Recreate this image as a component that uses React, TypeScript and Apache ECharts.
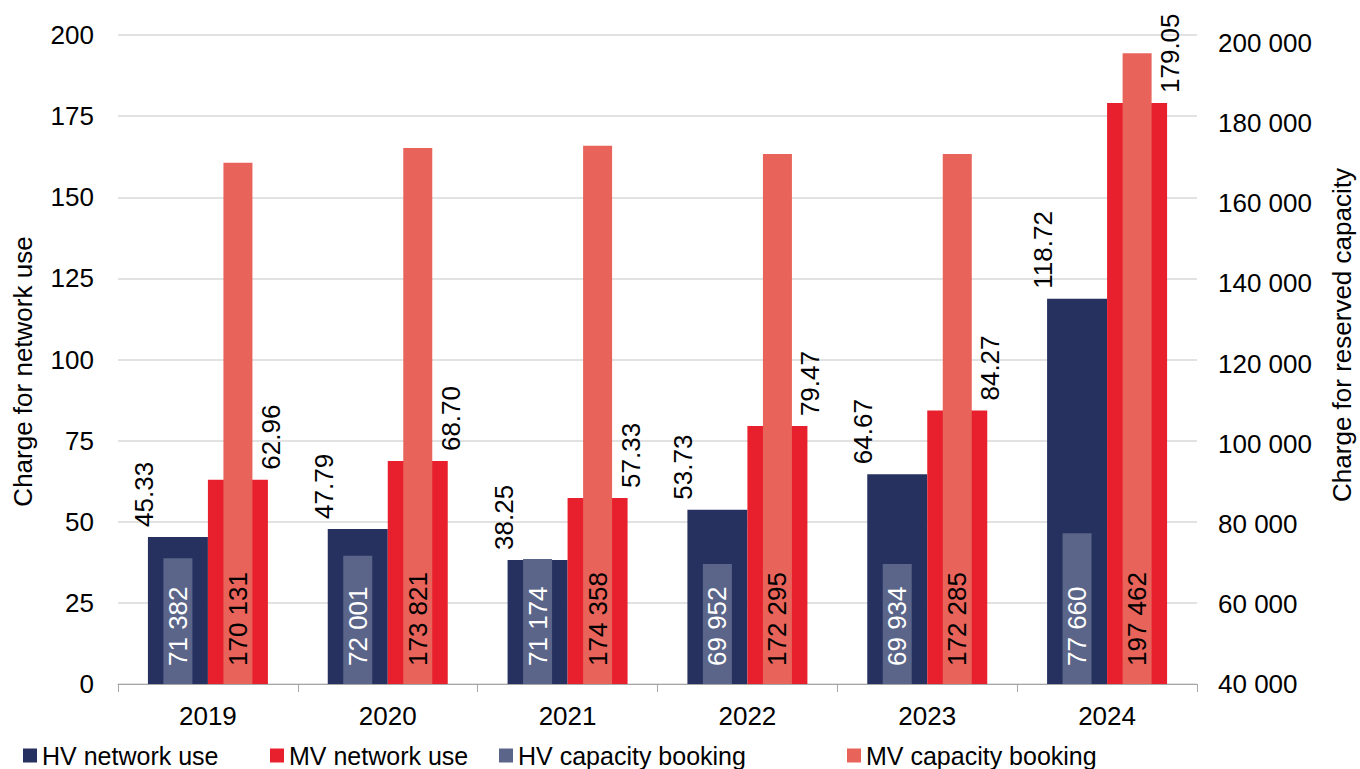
import React, { useEffect, useRef } from 'react';
import * as echarts from 'echarts';

const FONT = "'Liberation Sans', Arial, Helvetica, sans-serif";

const years = ['2019', '2020', '2021', '2022', '2023', '2024'];
const hvNetworkUse = [45.33, 47.79, 38.25, 53.73, 64.67, 118.72];
const mvNetworkUse = [62.96, 68.7, 57.33, 79.47, 84.27, 179.05];
const hvCapacityBooking = [71382, 72001, 71174, 69952, 69934, 77660];
const mvCapacityBooking = [170131, 173821, 174358, 172295, 172285, 197462];

const seriesNames = ['HV network use', 'MV network use', 'HV capacity booking', 'MV capacity booking'];
const colors = ['#26315f', '#e8202d', '#5b6589', '#e8635a'];

const spaced = (v: number) => String(Math.round(v)).replace(/\B(?=(\d{3})+(?!\d))/g, ' ');

const netLabel = (dx: number) => ({
  show: true,
  position: 'top',
  distance: 10,
  rotate: 90,
  align: 'left',
  verticalAlign: 'middle',
  offset: [0, dx],
  fontSize: 26,
  fontFamily: FONT,
  color: '#000',
  formatter: (p: any) => Number(p.value).toFixed(2),
});

const capLabel = (color: string) => ({
  show: true,
  position: 'insideBottom',
  distance: 18,
  rotate: 90,
  align: 'left',
  verticalAlign: 'middle',
  fontSize: 26,
  fontFamily: FONT,
  color,
  formatter: (p: any) => spaced(Number(p.value)),
});

const legendLefts = [23, 270, 499, 847];

export default function App() {
  const ref = useRef<HTMLDivElement>(null);
  useEffect(() => {
    const chart = echarts.init(ref.current!, null, { renderer: 'svg' });
    const option: any = {
      animation: false,
      backgroundColor: '#ffffff',
      color: colors,
      textStyle: { fontFamily: FONT },
      grid: { left: 118, right: 163, top: 35, bottom: 85, containLabel: false, outerBoundsMode: 'none' },
      legend: seriesNames.map((n, i) => ({
        data: [n],
        left: legendLefts[i],
        top: 743,
        padding: 0,
        itemWidth: 14,
        itemHeight: 14,
        icon: 'rect',
        textStyle: { fontSize: 25, fontFamily: FONT, color: '#000' },
      })),
      xAxis: [
        {
          type: 'category',
          data: years,
          gridIndex: 0,
          axisLine: { show: true, lineStyle: { color: '#a6a6a6', width: 1 } },
          axisTick: { show: true, length: 8, lineStyle: { color: '#a6a6a6' } },
          axisLabel: { fontSize: 26, color: '#000', margin: 19, fontFamily: FONT },
          splitLine: { show: false },
        },
        {
          type: 'category',
          data: years,
          gridIndex: 0,
          show: false,
        },
      ],
      yAxis: [
        {
          type: 'value',
          min: 0,
          max: 200,
          interval: 25,
          position: 'left',
          name: 'Charge for network use',
          nameLocation: 'middle',
          nameRotate: 90,
          nameGap: 82,
          nameTextStyle: { fontSize: 26, color: '#000', fontFamily: FONT, padding: [0, 24, 0, 0] },
          axisLine: { show: false },
          axisTick: { show: false },
          axisLabel: { fontSize: 26, color: '#000', margin: 24, fontFamily: FONT },
          splitLine: { show: true, lineStyle: { color: '#d9d9d9', width: 1.5 } },
        },
        {
          type: 'value',
          min: 40000,
          max: 202000,
          interval: 20000,
          position: 'right',
          name: 'Charge for reserved capacity',
          nameLocation: 'middle',
          nameRotate: 90,
          nameGap: 132,
          nameTextStyle: { fontSize: 26, color: '#000', fontFamily: FONT, padding: [0, 0, 0, 49] },
          axisLine: { show: false },
          axisTick: { show: false },
          axisLabel: {
            fontSize: 26,
            color: '#000',
            margin: 21,
            fontFamily: FONT,
            showMaxLabel: false,
            formatter: (v: number) => (v > 200000 ? '' : spaced(v)),
          },
          splitLine: { show: false },
        },
      ],
      series: [
        {
          name: seriesNames[0],
          type: 'bar',
          xAxisIndex: 0,
          yAxisIndex: 0,
          data: hvNetworkUse,
          barWidth: 60,
          barGap: '0%',
          barCategoryGap: '33%',
          itemStyle: { color: colors[0] },
          label: netLabel(-34),
        },
        {
          name: seriesNames[1],
          type: 'bar',
          xAxisIndex: 0,
          yAxisIndex: 0,
          data: mvNetworkUse,
          barWidth: 60,
          barGap: '0%',
          itemStyle: { color: colors[1] },
          label: netLabel(33),
        },
        {
          name: seriesNames[2],
          type: 'bar',
          xAxisIndex: 1,
          yAxisIndex: 1,
          data: hvCapacityBooking,
          barWidth: 29,
          barGap: '107%',
          clip: true,
          itemStyle: { color: colors[2] },
          label: capLabel('#ffffff'),
        },
        {
          name: seriesNames[3],
          type: 'bar',
          xAxisIndex: 1,
          yAxisIndex: 1,
          data: mvCapacityBooking,
          barWidth: 29,
          barGap: '107%',
          clip: true,
          itemStyle: { color: colors[3] },
          label: capLabel('#000000'),
        },
      ],
    };
    chart.setOption(option);
    return () => chart.dispose();
  }, []);
  return (
    <div
      ref={ref}
      style={{ position: 'fixed', left: 0, top: 0, width: 1360, height: 769, background: '#fff' }}
    />
  );
}
